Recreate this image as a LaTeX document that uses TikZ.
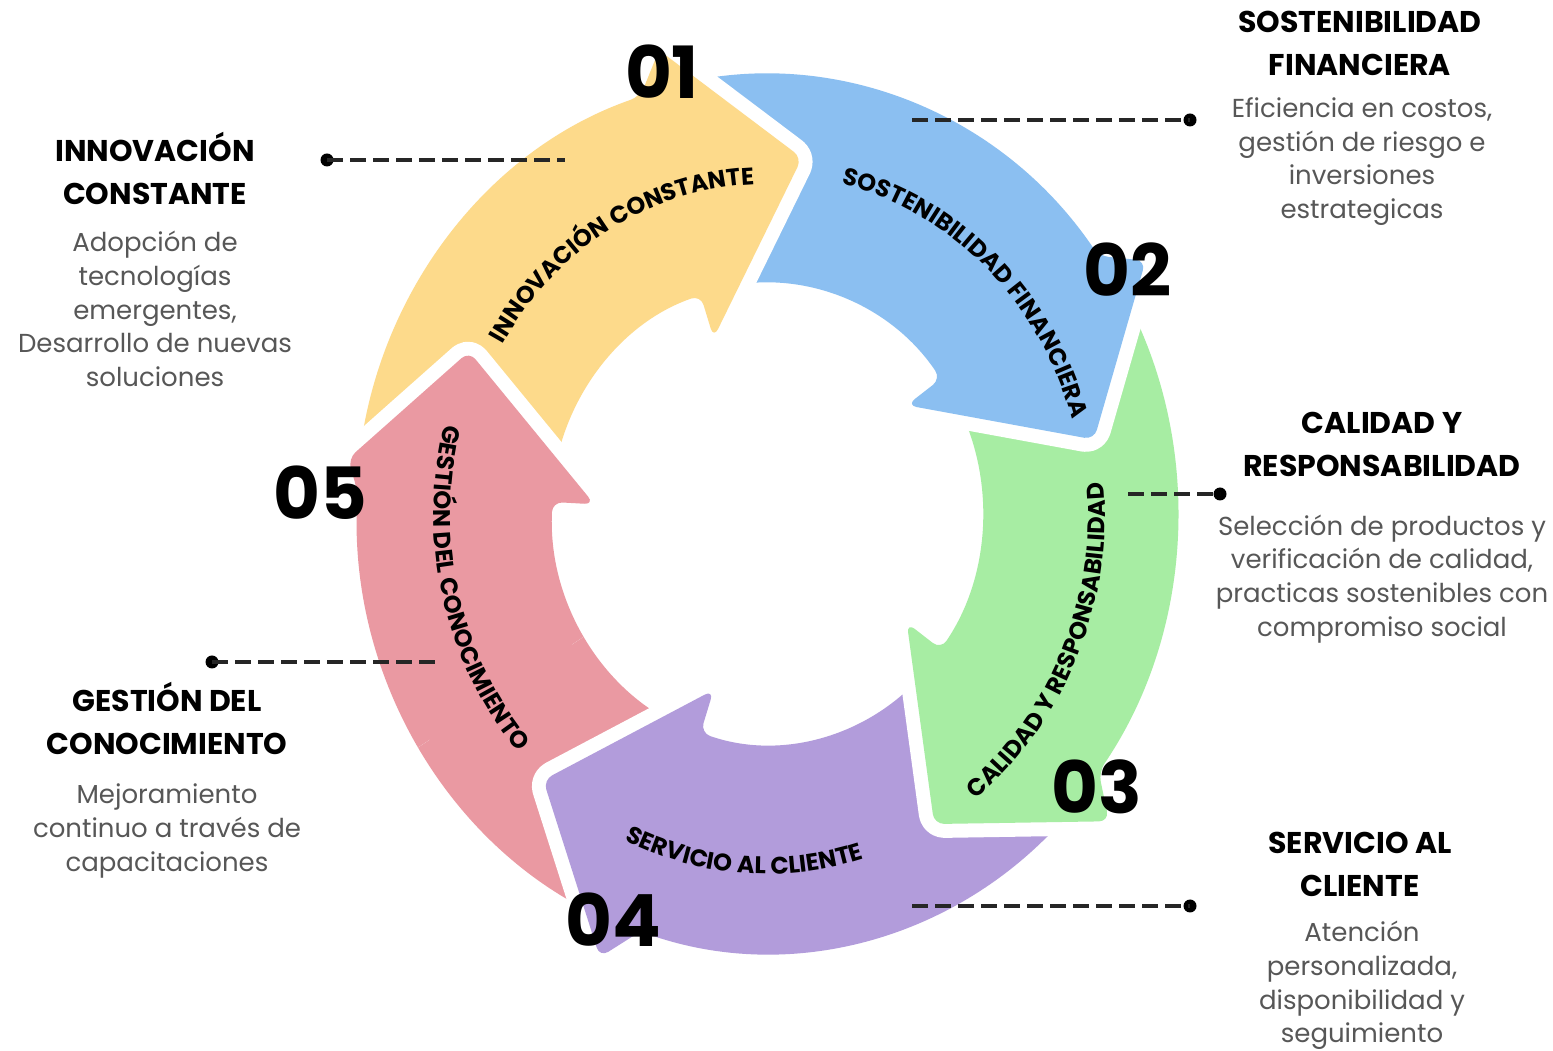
\documentclass[tikz,border=0pt]{standalone}
\usepackage{fontspec}
\setmainfont{Poppins}
\usetikzlibrary{decorations.text}
\definecolor{cyel}{HTML}{FDDA8B}
\definecolor{cblu}{HTML}{8BBFF1}
\definecolor{cgrn}{HTML}{A7EDA3}
\definecolor{cpur}{HTML}{B29CDB}
\definecolor{cred}{HTML}{EA99A2}
\definecolor{cdesc}{HTML}{575757}
% #1 colour, #2 head angle, #3 tail angle, #4 outer barb radius
\newcommand\ringarrow[4]{%
  \fill[#1, rounded corners=5pt, preaction={draw=white, line width=14pt, line join=round}]
   (#3:230) -- (#3:439) arc[start angle=#3, end angle=#2, radius=439]
   -- ({#2-4}:#4) -- ({#2-24}:358) -- (#2:185) -- (#2:230)
   arc[start angle=#2, end angle=#3, radius=230] -- cycle;}
\newcommand\arctext{\bfseries\fontsize{12}{14}\selectfont}
\begin{document}
\begin{tikzpicture}[x=0.5pt,y=0.5pt,
  headtxt/.style={font=\bfseries\fontsize{15}{21.5}\selectfont, align=center, text=black, inner sep=0pt},
  desctxt/.style={font=\fontsize{13}{16.9}\selectfont, align=center, text=cdesc, inner sep=0pt},
  numtxt/.style={font=\bfseries\fontsize{36}{36}\selectfont, text=black, inner sep=0pt},
  leaderdot/.style={circle, fill=black, inner sep=0pt, minimum size=6.5pt},
  leader/.style={black!85, line width=1.6pt, dash pattern=on 8pt off 3.5pt},
  ontext/.style={decorate, decoration={text along path, text align=center, text={|\arctext|#1}}}]
\fill[white] (0,0) rectangle (1553,1050);
\useasboundingbox (0,0) rectangle (1553,1050);

\begin{scope}[shift={(767,536)}, xscale=0.934]
  \ringarrow{cred}{177}{257}{452}
  \ringarrow{cpur}{-108}{-31}{478}
  \ringarrow{cgrn}{-36}{41}{478}
  \ringarrow{cblu}{36}{113}{478}
  \ringarrow{cyel}{108}{182}{478}
  \begin{scope}
    \clip (0,0) -- (135:700) arc[start angle=135, end angle=212, radius=700] -- cycle;
    \ringarrow{cred}{177}{257}{452}
  \end{scope}
  % texts on arrows
  \path[ontext={INNOVACIÓN CONSTANTE}] (172:330) arc[start angle=172, end angle=68, radius=330];
  \path[ontext={SOSTENIBILIDAD FINANCIERA}] (99:340) arc[start angle=99, end angle=-5, radius=340];
  \path[ontext={CALIDAD Y RESPONSABILIDAD}] (-76:362) arc[start angle=-76, end angle=28, radius=362];
  \path[ontext={SERVICIO AL CLIENTE}] (-146:360) arc[start angle=-146, end angle=-42, radius=360];
  \path[ontext={GESTIÓN DEL CONOCIMIENTO}] (142:357) arc[start angle=142, end angle=246, radius=357];
\end{scope}

% numbers
\node[numtxt] (n1) at (662,978) {01};
\node[numtxt] (n2) at (1128,780) {02};
\node[numtxt] (n3) at (1097,263) {03};
\node[numtxt] (n4) at (613,130) {04};
\node[numtxt] (n5) at (320,557) {05};

% side texts
\node[headtxt] (h1) at (155,881.5) {INNOVACIÓN\\CONSTANTE};
\node[desctxt] (d1) at (155,741) {Adopción de\\tecnologías\\emergentes,\\Desarrollo de nuevas\\soluciones};
\node[headtxt] (h2) at (1360,1006.5) {SOSTENIBILIDAD\\FINANCIERA};
\node[desctxt] (d2) at (1362,888.5) {Eficiencia en costos,\\gestión de riesgo e\\inversiones\\estrategicas};
\node[headtxt] (h3) at (1382,605.5) {CALIDAD Y\\RESPONSABILIDAD};
\node[desctxt] (d3) at (1382,471) {Selección de productos y\\verificación de calidad,\\practicas sostenibles con\\compromiso social};
\node[headtxt] (h4) at (1360,185.5) {SERVICIO AL\\CLIENTE};
\node[desctxt] (d4) at (1362,64.5) {Atención\\personalizada,\\disponibilidad y\\seguimiento};
\node[headtxt] (h5) at (167,331.5) {GESTIÓN DEL\\CONOCIMIENTO};
\node[desctxt] (d5) at (167,219) {Mejoramiento\\continuo a través de\\capacitaciones};

% leaders
\node[leaderdot] (p1) at (327,890) {};
\coordinate (q1) at (565,890);
\draw[leader] (p1.center) -- (q1);
\node[leaderdot] (p2) at (1190,930) {};
\coordinate (q2) at (912,930);
\draw[leader] (q2) -- (p2.center);
\node[leaderdot] (p3) at (1220,556) {};
\coordinate (q3) at (1128,556);
\draw[leader] (q3) -- (p3.center);
\node[leaderdot] (p4) at (1190,144) {};
\coordinate (q4) at (912,144);
\draw[leader] (q4) -- (p4.center);
\node[leaderdot] (p5) at (212,388) {};
\coordinate (q5) at (435,388);
\draw[leader] (p5.center) -- (q5);
\end{tikzpicture}
\end{document}
